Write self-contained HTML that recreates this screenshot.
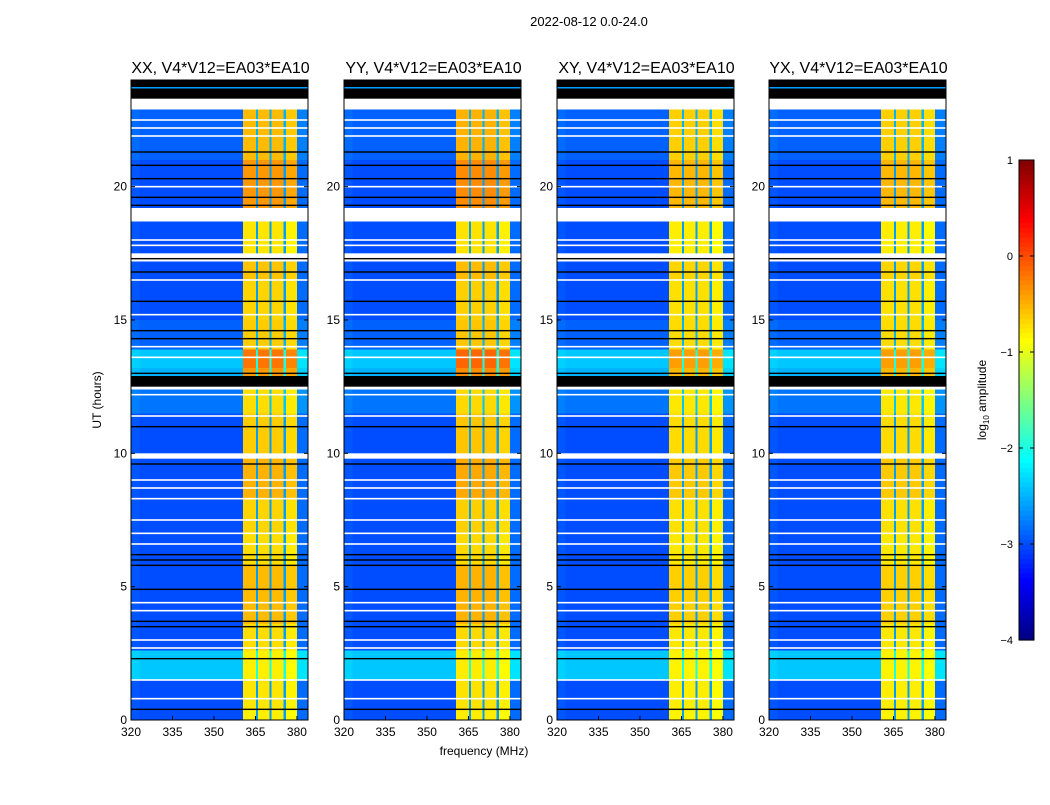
<!DOCTYPE html>
<html><head><meta charset="utf-8">
<style>
body{margin:0;background:#fff;}
svg text{font-family:"Liberation Sans",sans-serif;fill:#000;}
</style></head>
<body>
<svg id="fig" width="1050" height="800" xmlns="http://www.w3.org/2000/svg">
<rect width="1050" height="800" fill="#fff"/>
<text x="589" y="26" font-size="13" text-anchor="middle">2022-08-12 0.0-24.0</text>
<text x="484" y="755" font-size="12" text-anchor="middle">frequency (MHz)</text>
<text x="0" y="0" font-size="12" text-anchor="middle" transform="translate(101,400) rotate(-90)">UT (hours)</text>
<g id="panels"></g>
<g id="cbar"></g>
</svg>
<script>
// ---- data ----
const panelTitles = ["XX, V4*V12=EA03*EA10","YY, V4*V12=EA03*EA10","XY, V4*V12=EA03*EA10","YX, V4*V12=EA03*EA10"];
const panelLefts = [131,344,557,769];
const freqEdges = [320,323,360.5,365.2,366,370,370.8,375.2,376,380,384];
const colLevels = [-2.95,-3.0,-0.88,-2.6,-0.88,-2.6,-0.88,-2.6,-0.95,-2.85];
const bandCols = [false,false,true,false,true,false,true,false,true,false];
const bandGain = [0.85,0.95,0.6,0.6];
// time segments: [t0, t1, backgroundOffset, bandOffset]
const segments = [
 [0,0.4,0,0.1],[0.4,1.5,0,0.15],[1.5,2.6,0.6,0.1],[2.6,3.6,0,0.2],[3.6,5.8,0,0.4],
 [5.8,7.0,0,0.2],[7.0,8.3,0,0.25],[8.3,9.8,0,0.45],[10.0,11.5,0,0.3],[11.5,12.4,0.2,0.2],
 [12.9,13.2,0.5,0.6],[13.2,13.9,0.6,0.8],[13.9,15.0,0.1,0.3],[15.0,16.5,0,0.25],[16.5,17.2,0,0.35],
 [17.5,18.7,0,0.15],[19.2,21.0,0,0.6],[21.0,22.9,0.1,0.4]
];
const whiteBands = [[23.3,22.9],[19.2,18.7],[17.5,17.2],[12.5,12.4],[10.0,9.8]];
const blackBands = [[24,23.3],[12.9,12.5]];
const whiteLines = [22.5,22.2,21.9,20.0,18.0,17.8,16.5,15.2,14.0,13.6,12.2,11.4,9.0,8.7,8.3,7.5,7.0,6.6,4.4,4.1,3.0,2.7,1.5,0.8];
const blackLines = [21.3,20.8,20.3,19.6,19.3,17.3,16.8,15.7,14.6,14.3,13.0,11.0,9.6,6.2,6.0,5.8,4.9,3.7,3.5,2.3,0.4];
const xTicks = [320,335,350,365,380];
const yTicks = [0,5,10,15,20];
const cbTicks = [1,0,-1,-2,-3,-4];

// ---- helpers ----
function jet(v){ // v in [-4,1]
  let t=(v+4)/5; t=Math.max(0,Math.min(1,t));
  const f=x=>Math.max(0,Math.min(1,x));
  const r=f(1.5-Math.abs(4*t-3)), g=f(1.5-Math.abs(4*t-2)), b=f(1.5-Math.abs(4*t-1));
  return `rgb(${Math.round(r*255)},${Math.round(g*255)},${Math.round(b*255)})`;
}
const NS="http://www.w3.org/2000/svg";
function el(tag,attrs,parent){const e=document.createElementNS(NS,tag);for(const k in attrs)e.setAttribute(k,attrs[k]);parent.appendChild(e);return e;}
const PW=177, TOP=80, BOT=720;
const yS=t=>BOT-(t/24)*(BOT-TOP);
const panelsG=document.getElementById('panels');

panelLefts.forEach((L,pi)=>{
  const xS=f=>L+(f-320)/(384-320)*PW;
  const g=el('g',{},panelsG);
  
  
  el('rect',{x:L,y:TOP,width:PW,height:BOT-TOP,fill:'#fff'},g);
  segments.forEach(s=>{
    for(let c=0;c<colLevels.length;c++){
      const v=colLevels[c]+(bandCols[c]?s[3]*bandGain[pi]:s[2]);
      const r=el('rect',{x:xS(freqEdges[c]),y:yS(s[1]),width:xS(freqEdges[c+1])-xS(freqEdges[c]),height:yS(s[0])-yS(s[1]),fill:jet(v),'shape-rendering':'crispEdges'},g);
      
      
    }
  });
  whiteBands.forEach(b=>{el('rect',{x:L,y:yS(b[0]),width:PW,height:yS(b[1])-yS(b[0]),fill:'#fff'},g);});
  blackBands.forEach(b=>{el('rect',{x:L,y:yS(b[0]),width:PW,height:yS(b[1])-yS(b[0]),fill:'#000'},g);});
  el('rect',{x:L,y:yS(23.7)-1,width:PW,height:1.5,fill:jet(-2.6)},g);
  whiteLines.forEach(t=>{el('rect',{x:L,y:yS(t)-0.8,width:PW,height:1.6,fill:'#fff'},g);});
  blackLines.forEach(t=>{el('rect',{x:L,y:yS(t)-0.7,width:PW,height:1.4,fill:'#000'},g);});
  el('rect',{x:L,y:TOP,width:PW,height:BOT-TOP,fill:'none',stroke:'#000','stroke-width':1},g);
  xTicks.forEach(f=>{
    const x=xS(f);
    el('line',{x1:x,x2:x,y1:BOT,y2:BOT-4,stroke:'#000'},g);
    el('line',{x1:x,x2:x,y1:TOP,y2:TOP+4,stroke:'#000'},g);
    const tx=el('text',{x:x,y:BOT+16,'font-size':12,'text-anchor':'middle'},g);tx.textContent=f;
    
    
  });
  yTicks.forEach(t=>{
    const y=yS(t);
    el('line',{x1:L,x2:L+4,y1:y,y2:y,stroke:'#000'},g);
    el('line',{x1:L+PW,x2:L+PW-4,y1:y,y2:y,stroke:'#000'},g);
    const tx=el('text',{x:L-4,y:y+4,'font-size':12,'text-anchor':'end'},g);tx.textContent=t;
    
    
  });
  const tt=el('text',{x:L+PW/2+1,y:73,'font-size':16,'text-anchor':'middle'},g);tt.textContent=panelTitles[pi];
  
  
});

// colorbar
const cb=document.getElementById('cbar');


const CX=1019,CW=15,CT=160,CB=640;
const cS=v=>CB-(v+4)/5*(CB-CT);
for(let i=0;i<100;i++){
  const v0=-4+i*0.05;
  el('rect',{x:CX,y:cS(v0+0.05),width:CW,height:cS(v0)-cS(v0+0.05)+0.6,fill:jet(v0+0.025)},cb);
}
el('rect',{x:CX,y:CT,width:CW,height:CB-CT,fill:'none',stroke:'#000'},cb);
cbTicks.forEach(v=>{
  const y=cS(v);
  el('line',{x1:CX,x2:CX+4,y1:y,y2:y,stroke:'#000'},cb);
  el('line',{x1:CX+CW,x2:CX+CW-4,y1:y,y2:y,stroke:'#000'},cb);
  const tx=el('text',{x:1013,y:y+4,'font-size':11,'text-anchor':'end'},cb);tx.textContent=(v<0?'\u2212'+(-v):v);
  
  
});
const cl=el('text',{x:0,y:0,'font-size':12,'text-anchor':'middle',transform:'translate(986,400) rotate(-90)'},cb);
cl.innerHTML='log<tspan font-size="8" dy="3">10</tspan><tspan dy="-3"> amplitude</tspan>';


</script>
</body></html>
